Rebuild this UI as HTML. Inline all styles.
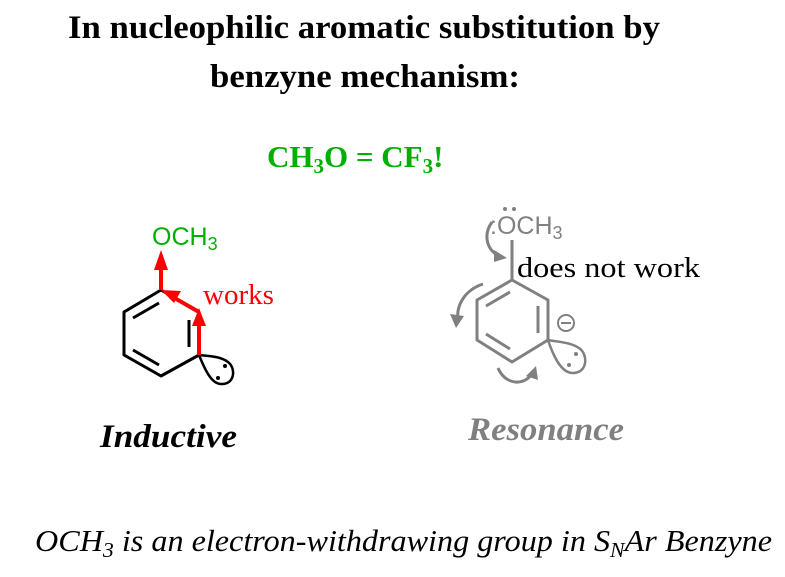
<!DOCTYPE html>
<html><head><style>
body{margin:0;background:#fff;width:785px;height:572px;overflow:hidden}
</style></head><body>
<svg width="785" height="572" xmlns="http://www.w3.org/2000/svg">
<g font-family="Liberation Serif, serif" font-weight="bold">
<text x="68" y="38" font-size="33" textLength="592" lengthAdjust="spacingAndGlyphs">In nucleophilic aromatic substitution by</text>
<text x="210" y="87" font-size="33" textLength="310" lengthAdjust="spacingAndGlyphs">benzyne mechanism:</text>
<text x="267" y="167" fill="#00b000" font-size="31">CH<tspan font-size="21" dy="6">3</tspan><tspan dy="-6">O = CF</tspan><tspan font-size="21" dy="6">3</tspan><tspan dy="-6">!</tspan></text>
</g>
<!-- left molecule -->
<g stroke="#000" stroke-width="3" fill="none" stroke-linejoin="round">
<path d="M161,290 L199,312 L199,355 L161,376 L124,355 L124,312 Z"/>
<path d="M133,318 L159,303 M133,350 L159,365 M189,320 L189,347"/>
<path d="M199,355 C205,370 212,385 222,384 C235,384 236,368 228,362 C220,356 208,356 199,355 Z" stroke-width="2.5"/>
</g>
<circle cx="225" cy="366" r="2" fill="#000"/><circle cx="218" cy="378" r="2" fill="#000"/>
<g stroke="red" stroke-width="4" fill="none">
<line x1="161" y1="290" x2="161" y2="262"/>
<path d="M199,355 L199,322"/>
<path d="M199,312 L171,296"/>
</g>
<polygon points="161,250 154,270 168,270" fill="red"/>
<polygon points="199,308 192,326 206,326" fill="red"/>
<polygon points="161,290 181,291 174,303" fill="red"/>
<text x="152" y="245" fill="#00b000" font-family="Liberation Sans, sans-serif" font-size="25">OCH<tspan font-size="18" dy="5">3</tspan></text>
<text x="203" y="304" fill="red" font-family="Liberation Serif, serif" font-size="29">works</text>
<text x="100" y="447" font-family="Liberation Serif, serif" font-size="33" font-weight="bold" font-style="italic" textLength="137" lengthAdjust="spacingAndGlyphs">Inductive</text>
<!-- right molecule -->
<g stroke="#808080" stroke-width="3" fill="none" stroke-linejoin="round">
<path d="M512,280 L548,300 L548,340 L512,362 L477,340 L477,300 Z"/>
<path d="M486,306 L510,292 M486,334 L510,349 M538,306 L538,333"/>
<line x1="512" y1="280" x2="512" y2="240"/>
<path d="M548,340 C554,358 562,374 574,373 C588,372 588,354 579,348 C570,342 558,342 548,340 Z" stroke-width="2.5"/>
<circle cx="566" cy="323" r="8" stroke-width="2"/>
<line x1="561" y1="323" x2="571" y2="323" stroke-width="2"/>
<path d="M492,222 C482,236 488,252 500,256"/>
<path d="M483,284 C465,290 456,305 458,320"/>
<path d="M498,368 C505,385 525,387 533,372"/>
</g>
<polygon points="507,258 494,250 494,262" fill="#808080"/>
<polygon points="456,328 450,314 464,316" fill="#808080"/>
<polygon points="536,366 526,376 538,380" fill="#808080"/>
<circle cx="576" cy="354" r="2" fill="#808080"/><circle cx="569" cy="365" r="2" fill="#808080"/>
<text x="490" y="234" fill="#808080" font-family="Liberation Sans, sans-serif" font-size="25">:OCH<tspan font-size="18" dy="5">3</tspan></text>
<circle cx="505" cy="209" r="2" fill="#808080"/><circle cx="514" cy="209" r="2" fill="#808080"/>
<text x="517" y="277" font-family="Liberation Serif, serif" font-size="29" textLength="183" lengthAdjust="spacingAndGlyphs">does not work</text>
<text x="468" y="440" fill="#808080" font-family="Liberation Serif, serif" font-size="33" font-weight="bold" font-style="italic" textLength="156" lengthAdjust="spacingAndGlyphs">Resonance</text>
<text x="35" y="551" font-family="Liberation Serif, serif" font-size="31" font-style="italic" textLength="737" lengthAdjust="spacingAndGlyphs">OCH<tspan font-size="21" dy="6">3</tspan><tspan dy="-6"> is an electron-withdrawing group in S</tspan><tspan font-size="21" dy="6">N</tspan><tspan dy="-6">Ar Benzyne</tspan></text>
</svg>
</body></html>
